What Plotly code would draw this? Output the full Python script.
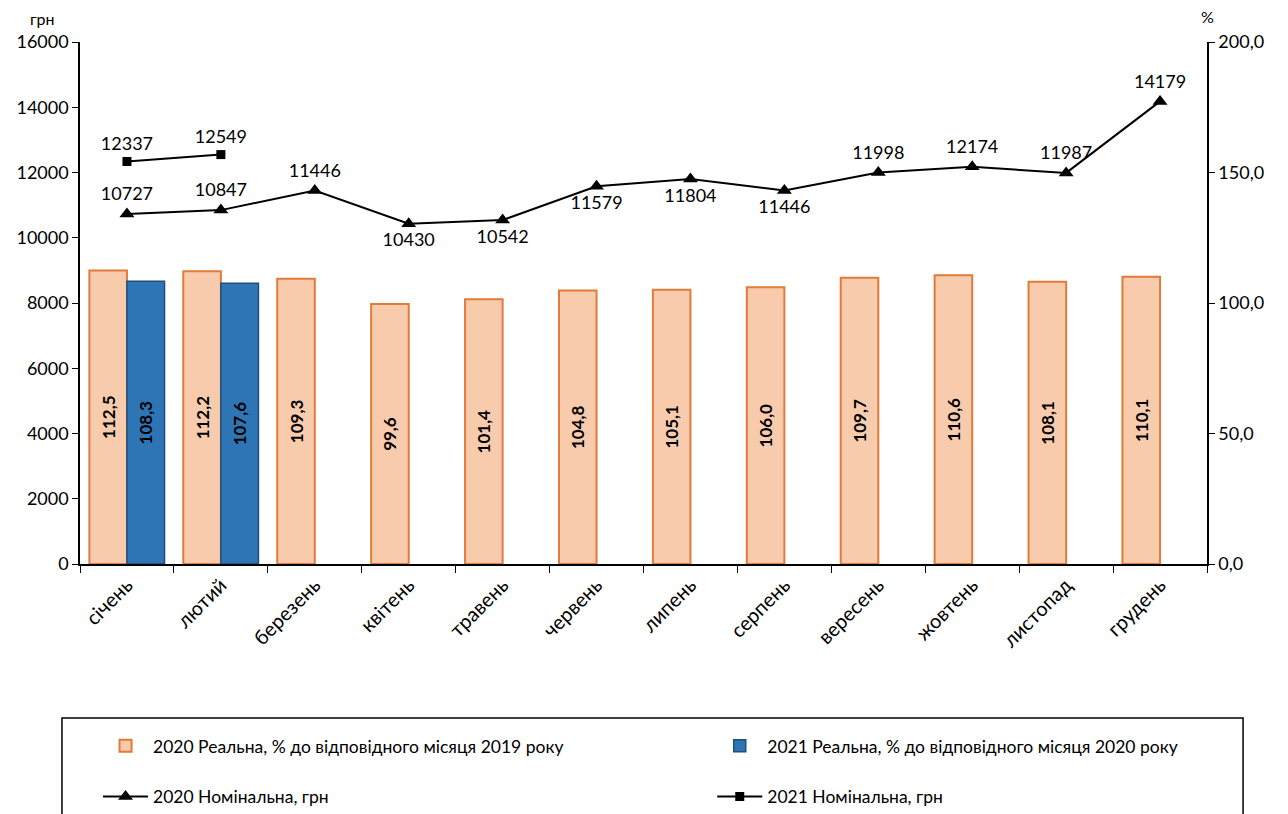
import plotly.graph_objects as go

months = ["січень", "лютий", "березень", "квітень", "травень", "червень",
          "липень", "серпень", "вересень", "жовтень", "листопад", "грудень"]
real_2020 = [112.5, 112.2, 109.3, 99.6, 101.4, 104.8, 105.1, 106.0, 109.7, 110.6, 108.1, 110.1]
real_2021 = [108.3, 107.6, None, None, None, None, None, None, None, None, None, None]
nom_2020 = [10727, 10847, 11446, 10430, 10542, 11579, 11804, 11446, 11998, 12174, 11987, 14179]
nom_2021 = [12337, 12549, None, None, None, None, None, None, None, None, None, None]
nom_2020_pos = ["top center", "top center", "top center", "bottom center", "bottom center",
                "bottom center", "bottom center", "bottom center", "top center", "top center",
                "top center", "top center"]
nom_2021_pos = ["top center"] * 12

FONT = "Lato, 'Open Sans', sans-serif"

fig = go.Figure()
fig.add_trace(go.Bar(
    x=months, y=real_2020, name="2020 Реальна, % до відповідного місяця 2019 року",
    marker=dict(color="#F8CBAD", line=dict(color="#E07B39", width=2)),
    texttemplate="%{y:.1f}", textposition="inside", insidetextanchor="middle",
    textangle=-90, textfont=dict(family=FONT, size=17, color="black", weight="bold"),
    yaxis="y", legend="legend", legendgroup="a"))
fig.add_trace(go.Bar(
    x=months, y=real_2021, name="2021 Реальна, % до відповідного місяця 2020 року",
    marker=dict(color="#2E75B6", line=dict(color="#1F4E79", width=1.5)),
    texttemplate="%{y:.1f}", textposition="inside", insidetextanchor="middle",
    textangle=-90, textfont=dict(family=FONT, size=17, color="black", weight="bold"),
    yaxis="y", legend="legend2", legendgroup="b"))
fig.add_trace(go.Scatter(
    x=months, y=nom_2020, name="2020 Номінальна, грн", mode="lines+markers+text",
    line=dict(color="black", width=2),
    marker=dict(symbol="triangle-up", size=13, color="black"),
    text=[str(v) for v in nom_2020], textposition=nom_2020_pos,
    textfont=dict(family=FONT, size=18, color="black"),
    yaxis="y2", legend="legend", legendgroup="c"))
fig.add_trace(go.Scatter(
    x=months, y=nom_2021, name="2021 Номінальна, грн", mode="lines+markers+text",
    line=dict(color="black", width=2),
    marker=dict(symbol="square", size=9, color="black"),
    text=[("" if v is None else str(v)) for v in nom_2021], textposition=nom_2021_pos,
    textfont=dict(family=FONT, size=18, color="black"),
    yaxis="y2", legend="legend2", legendgroup="d"))

legend_common = dict(orientation="v", xanchor="left", yanchor="top",
                     itemwidth=45, font=dict(family=FONT, size=17.5),
                     tracegroupgap=25, bgcolor="rgba(0,0,0,0)", traceorder="grouped")

fig.update_layout(
    width=1288, height=814,
    margin=dict(l=72, r=89, t=34, b=258, autoexpand=False),
    paper_bgcolor="white", plot_bgcolor="white",
    font=dict(family=FONT, size=18, color="black"),
    separators=",.",
    barmode="group", bargap=0.2, bargroupgap=0,
    xaxis=dict(range=[-0.5, len(months) - 0.5],
               showline=True, linecolor="black", linewidth=1.5, ticks="outside",
               tickson="boundaries", ticklen=7, tickcolor="black", tickangle=-45,
               tickfont=dict(size=20), showgrid=False, automargin=False),
    yaxis=dict(side="right", range=[0, 200], dtick=50, tickformat=".1f",
               showline=True, linecolor="black", linewidth=1.5, ticks="outside",
               ticklen=6, tickcolor="black", showgrid=False, zeroline=False,
               tickfont=dict(size=18), automargin=False),
    yaxis2=dict(side="left", overlaying="y", range=[0, 16000], dtick=2000, tickformat="d",
                showline=True, linecolor="black", linewidth=1.5, ticks="outside",
                ticklen=6, tickcolor="black", showgrid=False, zeroline=False,
                tickfont=dict(size=18), automargin=False),
    legend=dict(x=0.016, y=-0.314, **legend_common),
    legend2=dict(x=0.561, y=-0.314, **legend_common),
    showlegend=True,
)

fig.add_shape(type="rect", xref="paper", yref="paper",
              x0=-0.016, x1=1.032, y0=-0.295, y1=-0.62,
              line=dict(color="black", width=1.5), fillcolor="rgba(0,0,0,0)", layer="below")

fig.add_annotation(text="грн", xref="paper", yref="paper", x=-0.033, y=1.0, yshift=12,
                   showarrow=False, xanchor="center", yanchor="bottom",
                   font=dict(family=FONT, size=16))
fig.add_annotation(text="%", xref="paper", yref="paper", x=1.0, y=1.0, yshift=14,
                   showarrow=False, xanchor="center", yanchor="bottom",
                   font=dict(family=FONT, size=16))

fig.write_html("out.html")
